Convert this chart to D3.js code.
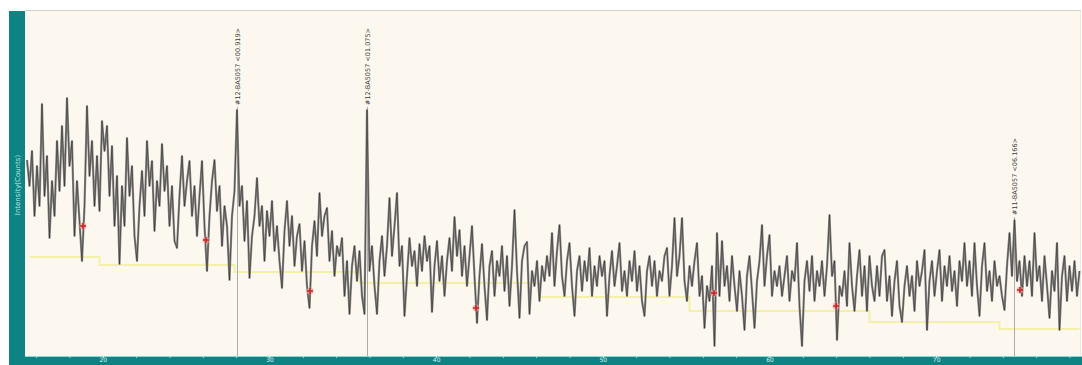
<!DOCTYPE html>
<html>
<head>
<meta charset="utf-8">
<script src="https://cdn.jsdelivr.net/npm/d3@7"></script>
<style>
  html, body { margin: 0; padding: 0; background: #ffffff; }
  svg { display: block; }
</style>
</head>
<body>
<svg id="chart" width="1082" height="365"></svg>
<script>
// ---- data ----
const startAngle = 15.45;   // 2θ of first sample
const stepAngle = 0.15;     // 2θ step between samples
const intensity = [
  196,170,205,140,190,150,252,160,200,118,175,140,215,165,230,170,258,190,215,120,
  175,135,95,150,250,180,215,150,200,145,235,205,230,160,210,130,180,92,170,130,
  218,160,190,120,95,150,185,140,215,170,195,125,175,150,212,165,190,130,170,115,
  108,160,200,150,175,195,140,170,120,160,195,130,85,140,175,196,145,170,110,150,
  130,76,140,165,246,150,170,115,155,78,120,140,178,130,150,95,145,120,155,105,
  130,95,68,125,155,110,140,90,120,132,85,115,70,48,110,135,100,163,120,140,
  148,95,125,80,110,100,118,60,95,42,90,110,75,105,60,42,246,85,110,70,
  42,95,120,80,110,158,100,130,163,90,110,40,80,118,90,105,70,112,85,120,
  95,110,44,90,115,75,100,60,95,118,85,139,100,126,80,110,70,100,130,80,
  33,80,112,70,36,90,105,60,95,80,110,65,100,50,90,146,85,38,95,110,
  114,42,85,70,95,55,90,75,100,80,123,70,105,131,80,60,95,113,70,40,
  85,100,65,95,75,108,60,90,70,100,80,95,40,80,105,70,90,113,65,85,
  60,95,75,105,65,90,55,40,85,100,70,95,60,85,75,100,108,60,90,138,
  80,100,138,75,55,90,70,95,113,60,80,28,70,55,90,10,123,60,115,70,
  90,55,100,70,45,85,60,26,80,100,65,28,75,95,131,70,100,121,60,85,
  70,90,60,80,100,55,85,75,113,50,10,75,95,65,100,55,85,70,95,60,
  90,141,80,95,16,70,60,85,50,113,70,45,80,106,60,90,45,100,70,55,
  90,60,100,106,55,80,40,75,95,50,34,70,90,60,80,45,95,70,85,106,
  26,75,95,60,85,106,55,90,70,100,65,85,50,95,75,113,70,95,60,113,
  70,40,90,113,65,85,55,95,70,80,60,46,90,123,80,136,75,95,60,100,
  70,95,60,123,75,90,55,100,70,38,85,65,113,26,80,100,55,90,65,95,
  60,85
];
const baselineAngles = [15.6, 19.8, 27.9, 35.4, 46.2, 55.2, 66.0, 73.8, 78.6];
const baselineCounts = [99, 91, 84, 73, 59, 45, 34, 27, 27];
const markerAngles = [18.81, 26.19, 32.43, 42.39, 56.67, 64.0, 75.03];
const markerCounts = [130, 116, 65, 48, 63, 50, 66];
const peakAngles = [28.05, 35.85, 74.67];
const peakLabelCounts = [251, 251, 141];
const peakLabels = ["#12-BA5057 <00.919>", "#12-BA5057 <01.075>", "#11-BA5057 <06.166>"];
const xTickValues = [20, 30, 40, 50, 60, 70];
const xTickLabels = ["20", "30", "40", "50", "60", "70"];
const yTitle = "Intensity(Counts)";

(function () {
// ---- layout ----
const svg = d3.select("#chart");
const pLeft = 25, pRight = 1080, pTop = 11, pBottom = 356;
const x = d3.scaleLinear().domain([15.33, 78.63]).range([pLeft, pRight]);
const y = d3.scaleLinear().domain([0, 345]).range([pBottom, pTop]);
const teal = "#0e8383";

const pts = intensity.map((v, i) => ({ a: startAngle + i * stepAngle, v }));

// plot background
svg.append("rect").attr("x", pLeft).attr("y", pTop).attr("width", pRight - pLeft).attr("height", pBottom - pTop)
  .attr("fill", "#fdf8ef");
svg.append("line").attr("x1", pLeft).attr("x2", pRight + 1).attr("y1", pTop - 0.5).attr("y2", pTop - 0.5)
  .attr("stroke", "#d4d0cc").attr("stroke-width", 1);
svg.append("line").attr("x1", pRight + 0.5).attr("x2", pRight + 0.5).attr("y1", pTop).attr("y2", pBottom)
  .attr("stroke", "#eeeae0").attr("stroke-width", 1);

// yellow background (baseline) line
svg.append("path")
  .datum(baselineAngles.map((a, i) => ({ a, v: baselineCounts[i] })))
  .attr("fill", "none").attr("stroke", "#f4f0a8").attr("stroke-width", 2)
  .attr("d", d3.line().x(d => x(d.a)).y(d => y(d.v)).curve(d3.curveStepAfter));

// vertical peak lines
svg.selectAll(".pline").data(peakAngles).join("line")
  .attr("x1", d => Math.round(x(d)) + 0.5).attr("x2", d => Math.round(x(d)) + 0.5)
  .attr("y1", (d, i) => y(peakLabelCounts[i]) + 2).attr("y2", pBottom)
  .attr("stroke", "#aeaca8").attr("stroke-width", 1);

// signal: grey halo + dark line
const line = d3.line().x(d => x(d.a)).y(d => y(d.v));
svg.append("path").datum(pts).attr("fill", "none")
  .attr("stroke", "#8e8c8a").attr("stroke-width", 2.2).attr("stroke-linejoin", "round")
  .attr("d", line);
svg.append("path").datum(pts).attr("fill", "none")
  .attr("stroke", "#1e1e1e").attr("stroke-width", 0.7).attr("stroke-opacity", 0.75)
  .attr("d", line);

// red markers
svg.selectAll(".mk").data(markerAngles).join("g")
  .attr("transform", (d, i) => `translate(${x(d)},${y(markerCounts[i])})`)
  .each(function () {
    const g = d3.select(this);
    g.append("circle").attr("r", 3.5).attr("fill", "#e8a0a0").attr("opacity", 0.7);
    g.append("line").attr("x1", -3).attr("x2", 3).attr("stroke", "#cc2020").attr("stroke-width", 1.5);
    g.append("line").attr("y1", -3).attr("y2", 3).attr("stroke", "#cc2020").attr("stroke-width", 1.5);
  });

// peak labels (rotated)
svg.selectAll(".plabel").data(peakAngles).join("text")
  .attr("transform", (d, i) => `translate(${Math.round(x(d)) + 3},${y(peakLabelCounts[i])}) rotate(-90)`)
  .attr("font-family", "DejaVu Sans, sans-serif").attr("font-size", 6.5)
  .attr("fill", "#3a3a3a").attr("text-anchor", "start")
  .text((d, i) => peakLabels[i]);

// left teal bar
svg.append("rect").attr("x", 9).attr("y", pTop).attr("width", pLeft - 9).attr("height", 365 - pTop)
  .attr("fill", teal);
svg.append("text")
  .attr("transform", `translate(19.5,185) rotate(-90)`)
  .attr("font-family", "DejaVu Sans, sans-serif").attr("font-size", 7)
  .attr("fill", "#bfe6e6").attr("text-anchor", "middle")
  .text(yTitle);

// bottom teal band with axis
svg.append("rect").attr("x", 9).attr("y", pBottom).attr("width", 1082 - 9).attr("height", 365 - pBottom)
  .attr("fill", teal);
svg.append("line").attr("x1", pLeft).attr("x2", 1082).attr("y1", pBottom + 0.5).attr("y2", pBottom + 0.5)
  .attr("stroke", "#8fd6d6").attr("stroke-width", 1);

const axis = d3.axisBottom(x).tickValues(d3.range(16, 79, 2)).tickSize(2).tickFormat("");
const ax = svg.append("g").attr("transform", `translate(0,${pBottom})`).call(axis);
ax.select(".domain").remove();
ax.selectAll("line").attr("stroke", "#a8e0e0");
const axMajor = d3.axisBottom(x).tickValues(xTickValues).tickSize(2)
  .tickFormat((d, i) => xTickLabels[i]).tickPadding(0);
const axm = svg.append("g").attr("transform", `translate(0,${pBottom})`).call(axMajor);
axm.select(".domain").remove();
axm.selectAll("line").attr("stroke", "#c8f0f0");
axm.selectAll("text").attr("font-family", "DejaVu Sans, sans-serif").attr("font-size", 6)
  .attr("dy", "0.6em").attr("fill", "#d8f4f4");
})();
</script>
</body>
</html>
